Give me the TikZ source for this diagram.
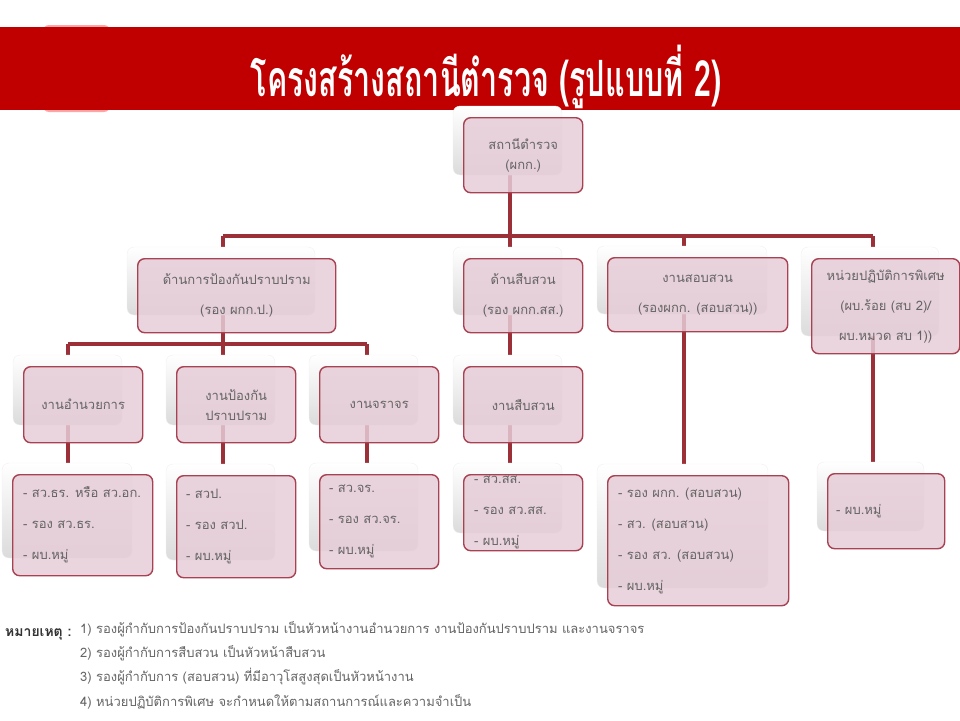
\documentclass[tikz,border=0pt]{standalone}
\usepackage{fontspec}
\newfontfamily\thai[Script=Thai]{Loma}
\newfontfamily\thaititle[Script=Thai,FakeStretch=0.61]{Loma}
\definecolor{barred}{RGB}{192,0,0}
\definecolor{cardfill}{RGB}{230,204,215}
\definecolor{cardline}{RGB}{168,66,82}
\definecolor{tieline}{RGB}{155,48,56}
\definecolor{inktext}{RGB}{100,100,100}
\pgfdeclarelayer{lines}
\pgfsetlayers{lines,main}

\tikzset{
  card/.style={draw=cardline, line width=1.4pt, fill=cardfill, fill opacity=.85,
    text opacity=1, rounded corners=7pt, text=inktext, align=center, inner sep=0pt,
    font=\thai\fontsize{13}{30}\selectfont},
  tight/.style={font=\thai\fontsize{13}{20}\selectfont},
  backcard/.style={rounded corners=7pt, top color=white, bottom color=gray!28, draw=gray!12},
  tie/.style={draw=tieline, line width=3.2pt},
  listtext/.style={anchor=west, align=left, inner sep=0pt, text=inktext,
    font=\thai\fontsize{13}{31}\selectfont}
}

% back card first, then the pink card over it
\newcommand{\drawcard}[7][]{%
  \path[backcard] (#3-10,#4-11) rectangle ++(#5-10,#6-6);
  \node[card, #1, anchor=north west, minimum width=#5pt, minimum height=#6pt] (#2) at (#3,#4) {#7};}

\begin{document}
\begin{tikzpicture}[x=1pt,y=-1pt]
  \useasboundingbox (0,0) rectangle (960,720);

  % title bar
  \fill[red!70, rounded corners=6pt, opacity=.5] (43,25) rectangle (110,112);
  \fill[barred] (0,27) rectangle (960,110);
  \node[text=white, font=\thaititle\bfseries\fontsize{50}{50}\selectfont] (title) at (486,77)
    {โครงสร้างสถานีตำรวจ (รูปแบบที่ 2)};

  % cards
  \drawcard[tight]{T}{463}{117}{119}{75}{สถานีตำรวจ\\(ผกก.)}
  \drawcard{A}{137}{258}{198}{74}{ด้านการป้องกันปราบปราม\\(รอง ผกก.ป.)}
  \drawcard{B}{463}{258}{119}{74}{ด้านสืบสวน\\(รอง ผกก.สส.)}
  \drawcard{C}{607}{257}{180}{74}{งานสอบสวน\\(รองผกก. (สอบสวน))}
  \drawcard{D}{811}{258}{148}{95}{หน่วยปฏิบัติการพิเศษ\\(ผบ.ร้อย (สบ 2)/\\ผบ.หมวด สบ 1))}
  \drawcard{E}{23}{366}{119}{76}{งานอำนวยการ}
  \drawcard[tight]{F}{176}{366}{119}{76}{งานป้องกัน\\ปราบปราม}
  \drawcard{G}{319}{366}{119}{76}{งานจราจร}
  \drawcard{H}{463}{366}{119}{76}{งานสืบสวน}
  \drawcard{I}{12}{474}{140}{101}{}
  \drawcard{J}{176}{475}{119}{102}{}
  \drawcard{K}{319}{474}{119}{94}{}
  \drawcard{L}{463}{474}{119}{76}{}
  \drawcard{M}{607}{475}{181}{130}{}
  \drawcard{N}{827}{473}{117}{75}{}

  \node[listtext] (Itext) at ([xshift=11pt]I.west) {- สว.ธร. หรือ สว.อก.\\- รอง สว.ธร.\\- ผบ.หมู่};
  \node[listtext] (Jtext) at ([xshift=10pt]J.west) {- สวป.\\- รอง สวป.\\- ผบ.หมู่};
  \node[listtext] (Ktext) at ([xshift=10pt]K.west) {- สว.จร.\\- รอง สว.จร.\\- ผบ.หมู่};
  \node[listtext] (Ltext) at ([xshift=11pt]L.west) {- สว.สส.\\- รอง สว.สส.\\- ผบ.หมู่};
  \node[listtext] (Mtext) at ([xshift=11pt]M.west) {- รอง ผกก. (สอบสวน)\\- สว. (สอบสวน)\\- รอง สว. (สอบสวน)\\- ผบ.หมู่};
  \node[listtext] (Ntext) at ([xshift=9pt]N.west) {- ผบ.หมู่};

  % connectors, kept under the cards
  \begin{pgfonlayer}{lines}
    \draw[tie] (510,0 |- T.center) -- (510,236);
    \draw[tie] (223,236) -- (873,236);
    \foreach \n/\x in {A/223,B/510,C/684,D/873}
      \draw[tie] (\x,236) -- (\x,0 |- \n.north);
    \draw[tie] (223,0 |- A.center) -- (223,344);
    \draw[tie] (68,344) -- (367,344);
    \foreach \n/\x in {E/68,F/223,G/367}
      \draw[tie] (\x,344) -- (\x,0 |- \n.north);
    \foreach \p/\c/\x in {B/H/510,E/I/68,F/J/223,G/K/367,H/L/510,C/M/684,D/N/873}
      \draw[tie] (\x,0 |- \p.center) -- (\x,0 |- \c.north);
  \end{pgfonlayer}

  % notes
  \node[anchor=base west, inner sep=0pt, text=black!80, font=\thai\bfseries\fontsize{14}{24}\selectfont]
    (notehead) at (5,636) {หมายเหตุ :};
  \node[anchor=north west, inner sep=0pt, align=left, text=inktext, font=\thai\fontsize{13}{24.3}\selectfont]
    (notebody) at (80,621) {1) รองผู้กำกับการป้องกันปราบปราม เป็นหัวหน้างานอำนวยการ งานป้องกันปราบปราม และงานจราจร\\
    2) รองผู้กำกับการสืบสวน เป็นหัวหน้าสืบสวน\\
    3) รองผู้กำกับการ (สอบสวน) ที่มีอาวุโสสูงสุดเป็นหัวหน้างาน\\
    4) หน่วยปฏิบัติการพิเศษ จะกำหนดให้ตามสถานการณ์และความจำเป็น};
\end{tikzpicture}
\end{document}
